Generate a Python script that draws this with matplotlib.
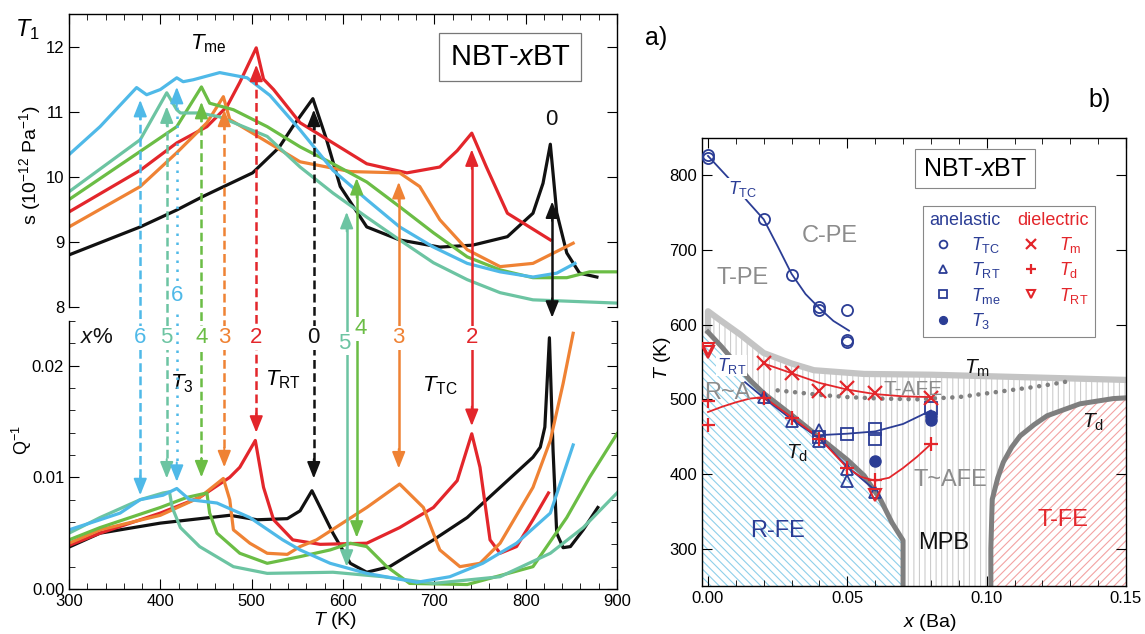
import numpy as np
import matplotlib
matplotlib.use('Agg')
from matplotlib import pyplot as plt
from matplotlib.ticker import MultipleLocator, FormatStrFormatter
from matplotlib.lines import Line2D

plt.rcParams['font.family'] = ['Liberation Sans', 'DejaVu Sans']
plt.rcParams['mathtext.fontset'] = 'custom'
plt.rcParams['mathtext.rm'] = 'Liberation Sans'
plt.rcParams['mathtext.it'] = 'Liberation Sans:italic'
plt.rcParams['hatch.linewidth'] = 0.8

# ---------------- left panel data: compliance s (10^-12 Pa^-1) ----------------
compositions = ['0', '2', '3', '4', '5', '6']
comp_colors = ['#111111', '#e3262b', '#ef8234', '#6bbd45', '#6cc4a2', '#4fb9e8']

s_T0 = [300, 378, 418, 447, 501, 530, 545, 567, 582, 597, 626, 662, 706, 742, 780, 808, 819, 827, 834, 845, 859, 878]
s_0 = [8.80, 9.23, 9.49, 9.70, 10.06, 10.45, 10.77, 11.20, 10.57, 9.85, 9.23, 9.03, 8.92, 8.95, 9.08, 9.44, 9.90, 10.50, 9.45, 8.83, 8.52, 8.46]
s_T2 = [300, 378, 418, 451, 473, 487, 505, 513, 524, 553, 589, 626, 670, 706, 725, 741, 757, 780, 827]
s_2 = [9.46, 10.10, 10.52, 10.77, 11.08, 11.45, 11.98, 11.50, 11.34, 10.83, 10.52, 10.20, 10.06, 10.15, 10.40, 10.67, 10.15, 9.44, 9.03]
s_T3 = [300, 378, 418, 451, 469, 476, 501, 553, 608, 662, 684, 706, 736, 772, 808, 852]
s_3 = [9.23, 9.85, 10.37, 10.83, 11.23, 10.88, 10.67, 10.23, 10.08, 10.06, 9.85, 9.34, 8.88, 8.62, 8.67, 8.98]
s_T4 = [300, 378, 418, 445, 454, 480, 517, 553, 589, 626, 662, 699, 736, 772, 808, 845, 870, 900]
s_4 = [9.65, 10.39, 10.77, 11.38, 11.13, 11.03, 10.77, 10.46, 10.20, 9.92, 9.54, 9.14, 8.77, 8.57, 8.45, 8.45, 8.54, 8.54]
s_T5 = [300, 378, 407, 418, 422, 443, 465, 517, 553, 589, 626, 662, 699, 736, 772, 808, 900]
s_5 = [9.77, 10.57, 11.29, 11.03, 10.98, 10.98, 10.92, 10.62, 10.15, 9.75, 9.38, 9.03, 8.68, 8.42, 8.22, 8.11, 8.06]
s_T6 = [300, 334, 374, 385, 400, 418, 425, 436, 465, 495, 520, 553, 589, 626, 662, 699, 736, 772, 808, 834, 854]
s_6 = [10.34, 10.77, 11.37, 11.26, 11.34, 11.52, 11.46, 11.49, 11.60, 11.52, 11.25, 10.72, 10.10, 9.65, 9.23, 8.92, 8.67, 8.54, 8.46, 8.52, 8.67]

# ---------------- left panel data: losses Q^-1 ----------------
q_T0 = [300, 334, 400, 476, 506, 539, 553, 566, 589, 608, 626, 651, 699, 736, 772, 808, 816, 821, 826, 830, 834, 841, 849, 863, 879]
q_0 = [0.00375, 0.0050, 0.0059, 0.0066, 0.0062, 0.0063, 0.0070, 0.0088, 0.0050, 0.0023, 0.0015, 0.0020, 0.0044, 0.0064, 0.0091, 0.0118, 0.0127, 0.0145, 0.0225, 0.0124, 0.0050, 0.0037, 0.0038, 0.0053, 0.0073]
q_T2 = [300, 334, 400, 443, 476, 487, 504, 513, 524, 545, 575, 626, 662, 699, 725, 741, 750, 761, 772, 790, 808, 825]
q_2 = [0.0039, 0.0050, 0.0068, 0.0082, 0.0100, 0.0109, 0.0133, 0.0091, 0.0062, 0.0044, 0.0040, 0.0041, 0.0055, 0.0073, 0.0097, 0.0139, 0.0109, 0.0044, 0.0032, 0.0038, 0.0062, 0.0086]
q_T3 = [300, 334, 400, 443, 469, 476, 480, 498, 517, 539, 553, 571, 626, 662, 688, 706, 728, 750, 772, 808, 827, 841, 852]
q_3 = [0.0041, 0.0053, 0.0066, 0.0082, 0.0099, 0.0080, 0.0053, 0.0041, 0.0032, 0.0031, 0.0038, 0.0044, 0.0073, 0.0094, 0.0073, 0.0035, 0.0020, 0.0023, 0.0041, 0.0091, 0.0133, 0.0184, 0.0229]
q_T4 = [300, 334, 400, 429, 451, 454, 462, 487, 517, 553, 586, 608, 626, 648, 673, 736, 808, 845, 870, 900]
q_4 = [0.0044, 0.0055, 0.0073, 0.0082, 0.0086, 0.0068, 0.0050, 0.0032, 0.0023, 0.0029, 0.0035, 0.0041, 0.0038, 0.0020, 0.0005, 0.0004, 0.0020, 0.0064, 0.0100, 0.0139]
q_T5 = [300, 334, 378, 403, 410, 413, 422, 443, 480, 517, 589, 644, 699, 772, 827, 863, 900]
q_5 = [0.0050, 0.0064, 0.0080, 0.0086, 0.0087, 0.0073, 0.0055, 0.0038, 0.0020, 0.0014, 0.0015, 0.0011, 0.0005, 0.0011, 0.0032, 0.0055, 0.0086]
q_T6 = [300, 334, 356, 378, 403, 418, 432, 462, 498, 534, 553, 586, 626, 681, 717, 753, 790, 827, 852]
q_6 = [0.0053, 0.0062, 0.0068, 0.0080, 0.0084, 0.0090, 0.0080, 0.0077, 0.0064, 0.0044, 0.0035, 0.0023, 0.0014, 0.0006, 0.0011, 0.0023, 0.0041, 0.0068, 0.0129]

s_curves = [(s_T0, s_0), (s_T2, s_2), (s_T3, s_3), (s_T4, s_4), (s_T5, s_5), (s_T6, s_6)]
q_curves = [(q_T0, q_0), (q_T2, q_2), (q_T3, q_3), (q_T4, q_4), (q_T5, q_5), (q_T6, q_6)]

# transition arrows: T_me (top) / T_RT (bottom), dashed
rt_labels = ['6', '5', '4', '3', '2', '0']
rt_colors = ['#4fb9e8', '#6cc4a2', '#6bbd45', '#ef8234', '#e3262b', '#111111']
rt_T = [378, 407, 445, 470, 505, 568]
rt_s_tip = [11.18, 11.08, 11.15, 11.03, 11.72, 11.03]
rt_q_tip = [0.0084, 0.0099, 0.0100, 0.0109, 0.0140, 0.0099]
# T_3 arrow, dotted
t3_arrow_T = 418
t3_s_tip = 11.38
t3_q_tip = 0.0096
# T_TC arrows, solid
tc_labels = ['5', '4', '3', '2', '0']
tc_colors = ['#6cc4a2', '#6bbd45', '#ef8234', '#e3262b', '#111111']
tc_T = [604, 615, 661, 741, 829]
tc_s_tip = [9.46, 9.98, 9.92, 10.42, 9.62]
tc_q_tip = [0.0020, 0.0046, 0.0108, 0.0146, 0.0243]

# ---------------- phase diagram data ----------------
ttc_x = [0.0, 0.0, 0.02, 0.03, 0.04, 0.04, 0.05, 0.05, 0.05]
ttc_T = [827, 823, 741, 666, 620, 624, 619, 577, 580]
ttc_fit_x = [0.0, 0.0072, 0.014, 0.02, 0.025, 0.03, 0.035, 0.04, 0.045, 0.0506]
ttc_fit_T = [826, 797, 766, 741, 705, 668, 641, 622, 605, 592]

trt_x = [0.02, 0.03, 0.04, 0.04, 0.05, 0.05, 0.06]
trt_T = [503, 471, 459, 444, 407, 391, 376]
trt_fit_x = [0.0133, 0.02, 0.03, 0.04, 0.05, 0.06]
trt_fit_T = [523, 502, 473, 448, 410, 378]

tme_x = [0.04, 0.05, 0.06, 0.06, 0.08]
tme_T = [450, 453, 460, 447, 488]
tme_fit_x = [0.04, 0.05, 0.06, 0.07, 0.08]
tme_fit_T = [452, 454, 457, 467, 485]

t3_x = [0.06, 0.08, 0.08]
t3_T = [417, 478, 472]

tm_x = [0.02, 0.03, 0.04, 0.05, 0.06, 0.08]
tm_T = [548, 535, 511, 515, 508, 502]
tm_fit_x = [0.02, 0.03, 0.04, 0.05, 0.06, 0.07, 0.08]
tm_fit_T = [548, 535, 522, 513, 507, 504, 503]

td_x = [0.0, 0.0, 0.02, 0.03, 0.04, 0.05, 0.06, 0.08]
td_T = [498, 466, 502, 475, 447, 408, 392, 440]
td_fit_x = [0.0, 0.005, 0.01, 0.015, 0.02, 0.03, 0.04, 0.05, 0.055, 0.06, 0.065, 0.07, 0.075, 0.08]
td_fit_T = [483, 490, 496, 501, 503, 476, 448, 408, 396, 391, 395, 408, 423, 440]

trt_red_x = [0.0, 0.0, 0.06]
trt_red_T = [568, 563, 372]

# phase boundaries
tmax_x = [0.0, 0.0, 0.004, 0.0115, 0.02, 0.03, 0.038, 0.056, 0.08, 0.10, 0.12, 0.15]
tmax_T = [588, 618, 607, 587, 562, 548, 539, 534, 533, 531, 529, 526]
afe_x = [0.025, 0.04, 0.05, 0.062, 0.075, 0.08, 0.09, 0.098, 0.106, 0.116, 0.123, 0.129]
afe_T = [512, 506, 503, 501, 500, 501, 503, 507, 511, 516, 520, 524]
rfe_x = [0.0, 0.005, 0.01, 0.015, 0.02, 0.03, 0.04, 0.05, 0.056, 0.062, 0.066, 0.07, 0.07]
rfe_T = [590, 570, 548, 526, 508, 479, 449, 419, 398, 365, 335, 311, 250]
tfe_x = [0.1015, 0.1015, 0.102, 0.104, 0.106, 0.109, 0.112, 0.117, 0.1217, 0.1335, 0.1454, 0.15]
tfe_T = [250, 300, 366, 395, 416, 436, 451, 466, 478, 494, 501, 502]

BLUE = '#2b3d95'
RED = '#e3262b'
GREY_L = '#c4c4c4'
GREY_D = '#7f7f7f'

fig = plt.figure(figsize=(11.45, 6.34), dpi=100)
W, H = 1145.0, 634.0

ax_top = fig.add_axes([69 / W, 1 - 307 / H, 548 / W, 293 / H])
ax_bot = fig.add_axes([69 / W, 1 - 589 / H, 548 / W, 268 / H])
ov = fig.add_axes([69 / W, 1 - 589 / H, 548 / W, 575 / H])
ax_pd = fig.add_axes([702 / W, 1 - 586 / H, 424 / W, 448 / H])

# ---------- left top: s ----------
for (tt, ss), c in zip(s_curves, comp_colors):
    ax_top.plot(tt, ss, color=c, lw=2.3, solid_joinstyle='round')
ax_top.set_xlim(300, 900)
ax_top.set_ylim(8, 12.5)
ax_top.spines['bottom'].set_visible(False)
ax_top.xaxis.set_major_locator(MultipleLocator(100))
ax_top.xaxis.set_minor_locator(MultipleLocator(20))
ax_top.yaxis.set_major_locator(MultipleLocator(1))
ax_top.tick_params(axis='x', which='both', direction='in', top=True, bottom=False, labelbottom=False)
ax_top.tick_params(axis='y', which='both', direction='in', left=True, right=True, labelsize=12)
ax_top.tick_params(which='major', length=7)
ax_top.tick_params(which='minor', length=4)
ax_top.set_ylabel(r's (10$^{-12}$ Pa$^{-1}$)', fontsize=14)
ax_top.yaxis.set_label_coords(-0.048, 0.485)
ax_top.text(0.805, 0.853, r'NBT-$x$BT', transform=ax_top.transAxes, ha='center', va='center',
            fontsize=21, bbox=dict(boxstyle='square,pad=0.35', facecolor='white', edgecolor='#777777', linewidth=0.9))
ax_top.text(432, 12.05, r'$T_{\rm me}$', fontsize=16, va='center')

# ---------- left bottom: Q^-1 ----------
for (tt, qq), c in zip(q_curves, comp_colors):
    ax_bot.plot(tt, qq, color=c, lw=2.3, solid_joinstyle='round')
ax_bot.set_xlim(300, 900)
ax_bot.set_ylim(0, 0.024)
ax_bot.spines['top'].set_visible(False)
ax_bot.xaxis.set_major_locator(MultipleLocator(100))
ax_bot.xaxis.set_minor_locator(MultipleLocator(20))
ax_bot.yaxis.set_major_locator(MultipleLocator(0.01))
ax_bot.yaxis.set_minor_locator(MultipleLocator(0.002))
ax_bot.yaxis.set_major_formatter(FormatStrFormatter('%.2f'))
ax_bot.tick_params(axis='x', which='both', direction='in', top=False, bottom=True, labelsize=12)
ax_bot.tick_params(axis='y', which='both', direction='in', left=True, right=True, labelsize=12)
ax_bot.tick_params(which='major', length=7)
ax_bot.tick_params(which='minor', length=4)
ax_bot.set_ylabel(r'Q$^{-1}$', fontsize=13)
ax_bot.yaxis.set_label_coords(-0.064, 0.556)
ax_bot.set_xlabel(r'$T$ (K)', fontsize=14)
ax_bot.xaxis.set_label_coords(0.485, -0.08)
ax_bot.text(411, 0.0184, r'$T_3$', fontsize=16, va='center')
ax_bot.text(515, 0.0187, r'$T_{\rm RT}$', fontsize=16, va='center')
ax_bot.text(687, 0.0182, r'$T_{\rm TC}$', fontsize=16, va='center')

# ---------- overlay: arrows spanning both panels ----------
ov.set_xlim(300, 900)
ov.set_ylim(0, 1)
ov.axis('off')
ov.patch.set_alpha(0)


def ov_y(ax, x, y):
    return ov.transData.inverted().transform(ax.transData.transform((x, y)))[1]


def head(x, y, ax, c, up):
    off = -14 if up else 14
    ov.annotate('', xy=(x, y), xycoords=ax.transData, xytext=(0, off), textcoords='offset points',
                arrowprops=dict(arrowstyle='-|>,head_length=1.0,head_width=0.4', color=c, lw=1.4,
                                shrinkA=0, shrinkB=0), annotation_clip=False, zorder=4)


lbl_box = dict(facecolor='white', edgecolor='none', pad=1.0)
ROW_Q = 0.0225

for lab, c, t, st, qt in zip(rt_labels, rt_colors, rt_T, rt_s_tip, rt_q_tip):
    ov.plot([t, t], [ov_y(ax_top, t, st) - 0.02, ov_y(ax_bot, t, qt) + 0.02], color=c, lw=1.8,
            ls=(0, (3.5, 1.8)), zorder=2)
    head(t, st, ax_top, c, True)
    head(t, qt, ax_bot, c, False)
    ov.text(t, ROW_Q, lab, transform=ax_bot.transData, color=c, fontsize=16, ha='center', va='center',
            bbox=lbl_box, zorder=5)

ov.plot([t3_arrow_T, t3_arrow_T],
        [ov_y(ax_top, t3_arrow_T, t3_s_tip) - 0.02, ov_y(ax_bot, t3_arrow_T, t3_q_tip) + 0.02],
        color='#4fb9e8', lw=1.8, ls=(0, (1.0, 2.6)), zorder=2)
head(t3_arrow_T, t3_s_tip, ax_top, '#4fb9e8', True)
head(t3_arrow_T, t3_q_tip, ax_bot, '#4fb9e8', False)
ov.text(t3_arrow_T, 8.17, '6', transform=ax_top.transData, color='#4fb9e8', fontsize=16, ha='center',
        va='center', bbox=lbl_box, zorder=5)

tc_row = [0.0220, 0.0233, ROW_Q, ROW_Q]
tc_dx = [-3, 4, 0, 0]
for i, (lab, c, t, st, qt) in enumerate(zip(tc_labels, tc_colors, tc_T, tc_s_tip, tc_q_tip)):
    ov.plot([t, t], [ov_y(ax_top, t, st) - 0.02, ov_y(ax_bot, t, qt) + 0.02], color=c, lw=1.8, zorder=2)
    head(t, st, ax_top, c, True)
    head(t, qt, ax_bot, c, False)
    if i < len(tc_row):
        ov.text(t + tc_dx[i], tc_row[i], lab, transform=ax_bot.transData, color=c, fontsize=16,
                ha='center', va='center', bbox=lbl_box, zorder=5)
ov.text(828, 10.88, '0', transform=ax_top.transData, color='#111111', fontsize=16, ha='center', va='center')
ov.text(330, ROW_Q, r'$x$%', transform=ax_bot.transData, color='#111111', fontsize=16, ha='center',
        va='center', bbox=lbl_box, zorder=5)

fig.text(0.013, 0.953, r'$T_1$', fontsize=17, ha='left', va='center')
fig.text(0.563, 0.94, 'a)', fontsize=18, ha='left', va='center')
fig.text(0.951, 0.842, 'b)', fontsize=18, ha='left', va='center')

# ---------- right: phase diagram ----------
xlo, xhi = -0.00215, 0.15
ylo, yhi = 250, 850
ax_pd.set_xlim(xlo, xhi)
ax_pd.set_ylim(ylo, yhi)

ax_pd.fill_betweenx(rfe_T, xlo, rfe_x, facecolor='none', edgecolor='#8fd0ea', hatch='\\\\\\\\',
                    linewidth=0, zorder=0.5)
ax_pd.fill(tfe_x + [xhi], tfe_T + [ylo], facecolor='none', edgecolor='#f3a3a3', hatch='////',
           linewidth=0, zorder=0.5)
ax_pd.fill(tmax_x + tfe_x[::-1] + rfe_x[::-1], tmax_T + tfe_T[::-1] + rfe_T[::-1], facecolor='none',
           edgecolor='#cccccc', hatch='|||', linewidth=0, zorder=0.5)

ax_pd.plot(tmax_x, tmax_T, color=GREY_L, lw=4.5, zorder=1.5, solid_capstyle='butt')
ax_pd.plot(rfe_x, rfe_T, color=GREY_D, lw=3.6, zorder=1.6)
ax_pd.plot(tfe_x, tfe_T, color=GREY_D, lw=3.6, zorder=1.6)
ax_pd.plot(afe_x, afe_T, color='#808080', lw=3.3, ls=(0, (0.01, 1.9)), dash_capstyle='round', zorder=1.7)

ax_pd.plot(ttc_fit_x, ttc_fit_T, color=BLUE, lw=1.3, zorder=3)
ax_pd.plot(trt_fit_x, trt_fit_T, color=BLUE, lw=1.3, zorder=3)
ax_pd.plot(tme_fit_x, tme_fit_T, color=BLUE, lw=1.3, zorder=3)
ax_pd.plot(tm_fit_x, tm_fit_T, color=RED, lw=1.3, zorder=3)
ax_pd.plot(td_fit_x, td_fit_T, color=RED, lw=1.3, zorder=3)

h_ttc, = ax_pd.plot(ttc_x, ttc_T, 'o', ms=8, mfc='none', mec=BLUE, mew=1.3, zorder=4)
h_trt, = ax_pd.plot(trt_x, trt_T, '^', ms=9, mfc='none', mec=BLUE, mew=1.3, zorder=4)
h_tme, = ax_pd.plot(tme_x, tme_T, 's', ms=8, mfc='none', mec=BLUE, mew=1.3, zorder=4)
h_t3, = ax_pd.plot(t3_x, t3_T, 'o', ms=8, mfc=BLUE, mec=BLUE, zorder=4)
h_tm, = ax_pd.plot(tm_x, tm_T, 'x', ms=10, mec=RED, mew=1.6, zorder=4)
h_td, = ax_pd.plot(td_x, td_T, '+', ms=10, mec=RED, mew=1.6, zorder=4)
h_trr, = ax_pd.plot(trt_red_x, trt_red_T, 'v', ms=9, mfc='none', mec=RED, mew=1.5, zorder=4)

h_an = Line2D([], [], linestyle='none', marker='none')
h_di = Line2D([], [], linestyle='none', marker='none')
handles = [h_an, h_ttc, h_trt, h_tme, h_t3, h_di, h_tm, h_td, h_trr]
labels = ['anelastic', r'$T_{\rm TC}$', r'$T_{\rm RT}$', r'$T_{\rm me}$', r'$T_3$',
          'dielectric', r'$T_{\rm m}$', r'$T_{\rm d}$', r'$T_{\rm RT}$']
leg = ax_pd.legend(handles, labels, ncol=2, loc='upper left', bbox_to_anchor=(0.5, 0.868),
                   fancybox=False, edgecolor='#888888', fontsize=13, handlelength=1.5,
                   handletextpad=0.8, columnspacing=0.9, labelspacing=0.3, borderpad=0.35,
                   markerscale=0.7, framealpha=1)
leg.get_frame().set_linewidth(0.8)
# header rows ("anelastic" / "dielectric") carry no marker: drop their handle space
for col in leg._legend_handle_box.get_children():
    first = col.get_children()[0]
    first.sep = 0
    first.get_children()[0].width = 0
for txt, c in zip(leg.get_texts(), [BLUE] * 5 + [RED] * 4):
    txt.set_color(c)

ax_pd.text(0.644, 0.931, r'NBT-$x$BT', transform=ax_pd.transAxes, ha='center', va='center', fontsize=18,
           bbox=dict(boxstyle='square,pad=0.3', facecolor='white', edgecolor='#888888', linewidth=0.8))

ax_pd.text(0.0125, 782, r'$T_{\rm TC}$', color=BLUE, fontsize=13, ha='center', va='center',
           bbox=dict(facecolor='white', edgecolor='none', pad=0.5), zorder=5)
ax_pd.text(0.0085, 545, r'$T_{\rm RT}$', color=BLUE, fontsize=13, ha='center', va='center',
           bbox=dict(facecolor='white', edgecolor='none', pad=0.5), zorder=5)
ax_pd.text(0.0438, 719, 'C-PE', color='#8c8c8c', fontsize=17, ha='center', va='center')
ax_pd.text(0.0126, 662, 'T-PE', color='#8c8c8c', fontsize=17, ha='center', va='center')
ax_pd.text(0.0068, 509, 'R~A', color='#8c8c8c', fontsize=17, ha='center', va='center', zorder=5)
ax_pd.text(0.0736, 513, 'T-AFE', color='#8c8c8c', fontsize=15, ha='center', va='center', zorder=5)
ax_pd.text(0.087, 392, 'T~AFE', color='#8c8c8c', fontsize=17, ha='center', va='center', zorder=5)
ax_pd.text(0.0845, 307, 'MPB', color='#111111', fontsize=17, ha='center', va='center', zorder=5)
ax_pd.text(0.1275, 338, 'T-FE', color=RED, fontsize=17, ha='center', va='center', zorder=5)
ax_pd.text(0.025, 324, 'R-FE', color=BLUE, fontsize=17, ha='center', va='center', zorder=5)
ax_pd.text(0.032, 428, r'$T_{\rm d}$', color='#111111', fontsize=15, ha='center', va='center', zorder=5)
ax_pd.text(0.138, 469, r'$T_{\rm d}$', color='#111111', fontsize=15, ha='center', va='center', zorder=5)
ax_pd.text(0.0966, 541, r'$T_{\rm m}$', color='#111111', fontsize=15, ha='center', va='center', zorder=5)

ax_pd.xaxis.set_major_locator(MultipleLocator(0.05))
ax_pd.xaxis.set_minor_locator(MultipleLocator(0.01))
ax_pd.xaxis.set_major_formatter(FormatStrFormatter('%.2f'))
ax_pd.yaxis.set_major_locator(MultipleLocator(100))
ax_pd.tick_params(which='both', direction='in', top=True, right=True, labelsize=12)
ax_pd.tick_params(which='major', length=7)
ax_pd.tick_params(which='minor', length=4)
ax_pd.set_ylabel(r'$T$ (K)', fontsize=14)
ax_pd.yaxis.set_label_coords(-0.068, 0.509)
ax_pd.set_xlabel(r'$x$ (Ba)', fontsize=14)
ax_pd.xaxis.set_label_coords(0.538, -0.058)

for a in (ax_top, ax_bot, ax_pd):
    for sp in a.spines.values():
        sp.set_linewidth(1.0)

fig.savefig('out.png', dpi=100)
